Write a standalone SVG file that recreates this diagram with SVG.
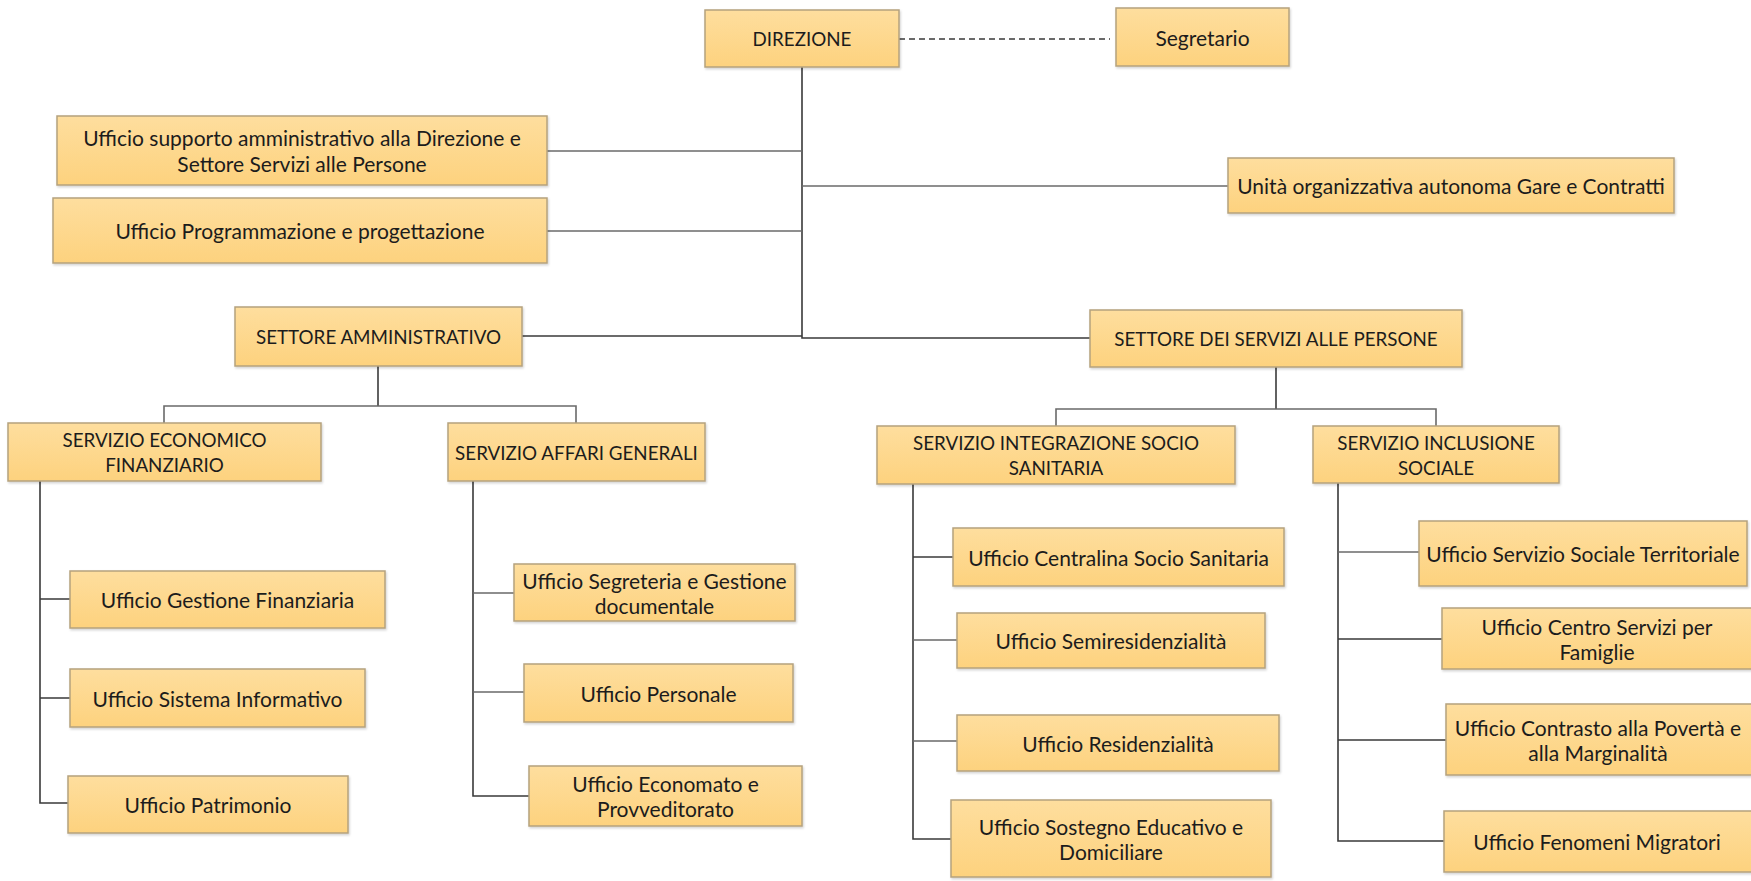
<svg xmlns="http://www.w3.org/2000/svg" width="1751" height="881" viewBox="0 0 1751 881">
<defs>
<linearGradient id="g" x1="0" y1="0" x2="0" y2="1">
<stop offset="0" stop-color="#FEDE9E"/>
<stop offset="1" stop-color="#FDD27E"/>
</linearGradient>
<filter id="sh" x="-5%" y="-10%" width="110%" height="130%">
<feDropShadow dx="1" dy="1.5" stdDeviation="1.2" flood-color="#000" flood-opacity="0.18"/>
</filter>
</defs>
<style>
.box{fill:url(#g);stroke:#B5A27E;stroke-width:1.5;filter:url(#sh)}
.t{font-family:Lato,"Liberation Sans",sans-serif;font-size:21px;fill:#1c1c1c;text-anchor:middle;dominant-baseline:central}
.u{font-size:18.8px}
.c{fill:none;stroke:#3a3a3a;stroke-width:1.6}
.cl{fill:none;stroke:#6a6a6a;stroke-width:1.6}
.d{fill:none;stroke:#3a3a3a;stroke-width:1.6;stroke-dasharray:6 4}
</style>
<rect width="1751" height="881" fill="#fff"/>
<g id="connectors">
<path class="d" d="M899,39 H1110"/>
<path class="c" d="M802,67 V338 H1090"/>
<path class="cl" d="M547,151 H802"/>
<path class="cl" d="M547,231 H802"/>
<path class="cl" d="M802,186 H1228"/>
<path class="c" d="M522,336 H802"/>
<path class="c" d="M378,366 V406"/>
<path class="cl" d="M164,423 V406 H576 V423"/>
<path class="c" d="M1276,367 V409"/>
<path class="cl" d="M1056,426 V409 H1436 V426"/>
<path class="c" d="M40,481 V803 H68"/>
<path class="c" d="M40,599 H70 M40,698 H70"/>
<path class="c" d="M473,481 V796 H529"/>
<path class="cl" d="M473,593 H514 M473,692 H524"/>
<path class="c" d="M913,484 V839 H951"/>
<path class="c" d="M913,557 H953"/>
<path class="cl" d="M913,640 H957 M913,741 H957"/>
<path class="c" d="M1338,483 V841 H1444"/>
<path class="cl" d="M1338,552 H1419"/>
<path class="c" d="M1338,639 H1442 M1338,740 H1446"/>
</g>
<g id="direzione"><rect class="box" x="705" y="10" width="194" height="57"/><text class="t u" x="802" y="38.5">DIREZIONE</text></g>
<g id="segretario"><rect class="box" x="1116" y="8" width="173" height="58"/><text class="t" x="1202.5" y="37">Segretario</text></g>
<g id="supporto"><rect class="box" x="57" y="116" width="490" height="69"/><text class="t" x="302" y="137">Ufficio supporto amministrativo alla Direzione e</text><text class="t" x="302" y="163">Settore Servizi alle Persone</text></g>
<g id="programmazione"><rect class="box" x="53" y="198" width="494" height="65"/><text class="t" x="300" y="230.5">Ufficio Programmazione e progettazione</text></g>
<g id="gare"><rect class="box" x="1228" y="158" width="446" height="55"/><text class="t" x="1451" y="185.5">Unità organizzativa autonoma Gare e Contratti</text></g>
<g id="settore-amministrativo"><rect class="box" x="235" y="307" width="287" height="59"/><text class="t u" x="378.5" y="336.5">SETTORE AMMINISTRATIVO</text></g>
<g id="settore-servizi-persone"><rect class="box" x="1090" y="310" width="372" height="57"/><text class="t u" x="1276" y="338.5">SETTORE DEI SERVIZI ALLE PERSONE</text></g>
<g id="servizio-economico"><rect class="box" x="8" y="423" width="313" height="58"/><text class="t u" x="164.5" y="439.5">SERVIZIO ECONOMICO</text><text class="t u" x="164.5" y="464.5">FINANZIARIO</text></g>
<g id="servizio-affari-generali"><rect class="box" x="448" y="423" width="257" height="58"/><text class="t u" x="576.5" y="452">SERVIZIO AFFARI GENERALI</text></g>
<g id="servizio-integrazione"><rect class="box" x="877" y="426" width="358" height="58"/><text class="t u" x="1056" y="442.5">SERVIZIO INTEGRAZIONE SOCIO</text><text class="t u" x="1056" y="467.5">SANITARIA</text></g>
<g id="servizio-inclusione"><rect class="box" x="1313" y="426" width="246" height="57"/><text class="t u" x="1436" y="442">SERVIZIO INCLUSIONE</text><text class="t u" x="1436" y="467">SOCIALE</text></g>
<g id="gestione-finanziaria"><rect class="box" x="70" y="571" width="315" height="57"/><text class="t" x="227.5" y="599.5">Ufficio Gestione Finanziaria</text></g>
<g id="sistema-informativo"><rect class="box" x="70" y="669" width="295" height="58"/><text class="t" x="217.5" y="698">Ufficio Sistema Informativo</text></g>
<g id="patrimonio"><rect class="box" x="68" y="776" width="280" height="57"/><text class="t" x="208" y="804.5">Ufficio Patrimonio</text></g>
<g id="segreteria"><rect class="box" x="514" y="564" width="281" height="57"/><text class="t" x="654.5" y="580">Ufficio Segreteria e Gestione</text><text class="t" x="654.5" y="605">documentale</text></g>
<g id="personale"><rect class="box" x="524" y="664" width="269" height="58"/><text class="t" x="658.5" y="693">Ufficio Personale</text></g>
<g id="economato"><rect class="box" x="529" y="766" width="273" height="60"/><text class="t" x="665.5" y="783.5">Ufficio Economato e</text><text class="t" x="665.5" y="808.5">Provveditorato</text></g>
<g id="centralina"><rect class="box" x="953" y="528" width="331" height="58"/><text class="t" x="1118.5" y="557">Ufficio Centralina Socio Sanitaria</text></g>
<g id="semiresidenzialita"><rect class="box" x="957" y="613" width="308" height="55"/><text class="t" x="1111" y="640.5">Ufficio Semiresidenzialità</text></g>
<g id="residenzialita"><rect class="box" x="957" y="715" width="322" height="56"/><text class="t" x="1118" y="743">Ufficio Residenzialità</text></g>
<g id="sostegno"><rect class="box" x="951" y="800" width="320" height="77"/><text class="t" x="1111" y="826">Ufficio Sostegno Educativo e</text><text class="t" x="1111" y="851">Domiciliare</text></g>
<g id="territoriale"><rect class="box" x="1419" y="521" width="328" height="65"/><text class="t" x="1583" y="553.5">Ufficio Servizio Sociale Territoriale</text></g>
<g id="centro-famiglie"><rect class="box" x="1442" y="608" width="310" height="61"/><text class="t" x="1597" y="626">Ufficio Centro Servizi per</text><text class="t" x="1597" y="651">Famiglie</text></g>
<g id="contrasto"><rect class="box" x="1446" y="704" width="306" height="71"/><text class="t" x="1598" y="727">Ufficio Contrasto alla Povertà e</text><text class="t" x="1598" y="752">alla Marginalità</text></g>
<g id="fenomeni"><rect class="box" x="1444" y="811" width="308" height="61"/><text class="t" x="1597" y="841.5">Ufficio Fenomeni Migratori</text></g>
</svg>
